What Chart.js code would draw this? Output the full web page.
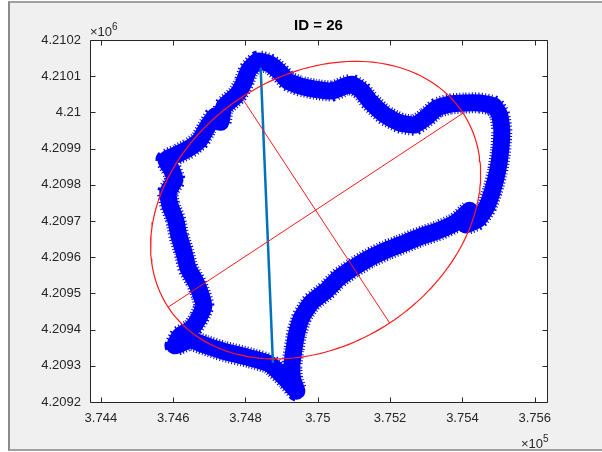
<!DOCTYPE html>
<html lang="en">

<head>
    <meta charset="UTF-8">
    <title>ID = 26</title>
    <script src="https://cdn.jsdelivr.net/npm/chart.js"></script>
    <style>
        body {
            margin: 0;
            background: #ffffff;
        }

        .figure {
            position: absolute;
            left: 8px;
            top: 1px;
            width: 594px;
            height: 446px;
            background: #f0f0f0;
            border-top: 2px solid #a0a0a0;
            border-left: 2px solid #8a8a8a;
            border-bottom: 2px solid #a0a0a0;
        }

        #plot {
            position: absolute;
            left: 10px;
            top: 4px;
        }
    </style>
</head>

<body>
    <div class="figure"></div>
    <canvas id="plot" width="592" height="446"></canvas>
    <script>
        // axis ticks (x in units of 1e5, y in units of 1e6)
        const xTicks = [374400, 374600, 374800, 375000, 375200, 375400, 375600];
        const xTickLabels = ['3.744', '3.746', '3.748', '3.75', '3.752', '3.754', '3.756'];
        const yTicks = [4209200, 4209300, 4209400, 4209500, 4209600, 4209700, 4209800, 4209900, 4210000, 4210100, 4210200];
        const yTickLabels = ['4.2092', '4.2093', '4.2094', '4.2095', '4.2096', '4.2097', '4.2098', '4.2099', '4.21', '4.2101', '4.2102'];

        // boundary track of object 26
        const blobX = [375420, 375384, 375337, 375282, 375227, 375191, 375144, 375097, 375055, 375025,
            374983, 374956, 374942, 374934, 374928, 374931, 374942, 374914, 374867, 374812,
            374737, 374688, 374646, 374605, 374618, 374652, 374671, 374685, 374677, 374663,
            374641, 374630, 374616, 374607, 374591, 374585, 374605, 374596, 374580, 374613,
            374646, 374674, 374693, 374715, 374732, 374740, 374776, 374795, 374809, 374834,
            374867, 374895, 374917, 374950, 374992, 375041, 375075, 375094, 375122, 375144,
            375185, 375227, 375268, 375301, 375329, 375365, 375406, 375448, 375487, 375503,
            375509, 375506, 375498, 375484, 375467, 375442, 375409];
        const blobY = [4209730, 4209697, 4209675, 4209656, 4209634, 4209620, 4209598, 4209570, 4209540, 4209509,
            4209476, 4209435, 4209391, 4209344, 4209299, 4209261, 4209230, 4209261, 4209305, 4209322,
            4209341, 4209357, 4209371, 4209355, 4209382, 4209404, 4209432, 4209465, 4209496, 4209531,
            4209570, 4209614, 4209658, 4209703, 4209744, 4209780, 4209813, 4209841, 4209869, 4209885,
            4209902, 4209924, 4209957, 4209990, 4209973, 4210015, 4210048, 4210081, 4210117, 4210142,
            4210134, 4210111, 4210087, 4210073, 4210064, 4210059, 4210073, 4210078, 4210059, 4210031,
            4209993, 4209971, 4209965, 4209987, 4210012, 4210023, 4210026, 4210026, 4210018, 4209993,
            4209951, 4209896, 4209841, 4209786, 4209739, 4209703, 4209689];

        // straight segment between the two end points
        const chordX = [374842, 374876];
        const chordY = [4210123, 4209308];

        // fitted ellipse
        const ellCenter = [374994, 4209730];
        const ellSemiMajor = 488;
        const ellSemiMinor = 373;
        const ellAngle = 33.3; // degrees

        const th = ellAngle * Math.PI / 180;
        const ellPoint = (u, v) => ({
            x: ellCenter[0] + u * Math.cos(th) - v * Math.sin(th),
            y: ellCenter[1] + u * Math.sin(th) + v * Math.cos(th)
        });
        const ellipse = [];
        for (let i = 0; i <= 200; i++) {
            const t = 2 * Math.PI * i / 200;
            ellipse.push(ellPoint(ellSemiMajor * Math.cos(t), ellSemiMinor * Math.sin(t)));
        }
        const majorAxis = [ellPoint(-ellSemiMajor, 0), ellPoint(ellSemiMajor, 0)];
        const minorAxis = [ellPoint(0, -ellSemiMinor), ellPoint(0, ellSemiMinor)];

        const blob = blobX.map((x, i) => ({ x: x, y: blobY[i] }));
        const chord = chordX.map((x, i) => ({ x: x, y: chordY[i] }));

        const FONT = 'Liberation Sans, Arial, Helvetica, sans-serif';
        const AXIS_COLOR = '#262626';

        // white axes background, box with inward ticks and the exponent labels
        const axesBox = {
            id: 'axesBox',
            beforeDatasetsDraw(chart) {
                const a = chart.chartArea;
                const ctx = chart.ctx;
                ctx.save();
                ctx.fillStyle = '#ffffff';
                ctx.fillRect(a.left, a.top, a.right - a.left + 1, a.bottom - a.top + 1);
                ctx.restore();
            },
            afterDraw(chart) {
                const ctx = chart.ctx;
                const a = chart.chartArea;
                const sx = chart.scales.x;
                const sy = chart.scales.y;
                const L = Math.round(a.left) + 0.5;
                const R = Math.round(a.right) + 0.5;
                const T = Math.round(a.top) + 0.5;
                const B = Math.round(a.bottom) + 0.5;
                const tl = 5;

                ctx.save();
                ctx.strokeStyle = AXIS_COLOR;
                ctx.lineWidth = 1;
                ctx.beginPath();
                ctx.rect(L, T, R - L, B - T);
                xTicks.forEach(v => {
                    const px = Math.round(sx.getPixelForValue(v)) + 0.5;
                    ctx.moveTo(px, B); ctx.lineTo(px, B - tl);
                    ctx.moveTo(px, T); ctx.lineTo(px, T + tl);
                });
                yTicks.forEach(v => {
                    const py = Math.round(sy.getPixelForValue(v)) + 0.5;
                    ctx.moveTo(L, py); ctx.lineTo(L + tl, py);
                    ctx.moveTo(R, py); ctx.lineTo(R - tl, py);
                });
                ctx.stroke();

                ctx.fillStyle = AXIS_COLOR;
                ctx.textBaseline = 'alphabetic';
                ctx.textAlign = 'left';

                // y exponent, top left
                ctx.font = '13px ' + FONT;
                ctx.fillText('\u00d710', L - 0.5, T - 5);
                let w = ctx.measureText('\u00d710').width;
                ctx.font = '10px ' + FONT;
                ctx.fillText('6', L - 0.5 + w, T - 11);

                // x exponent, bottom right
                ctx.font = '10px ' + FONT;
                const w5 = ctx.measureText('5').width;
                ctx.font = '13px ' + FONT;
                w = ctx.measureText('\u00d710').width;
                const x0 = R + 1 - w5 - w;
                ctx.fillText('\u00d710', x0, B + 45);
                ctx.font = '10px ' + FONT;
                ctx.fillText('5', x0 + w, B + 39);
                ctx.restore();
            }
        };

        const ctx = document.getElementById('plot').getContext('2d');
        const chart = new Chart(ctx, {
            type: 'scatter',
            data: {
                datasets: [{
                    // ragged rim of the track
                    data: blob,
                    showLine: true,
                    borderColor: '#0000ff',
                    borderWidth: 21,
                    borderDash: [1, 2],
                    borderJoinStyle: 'round',
                    tension: 0.15,
                    pointRadius: 0,
                    order: 5
                }, {
                    data: blob,
                    showLine: true,
                    borderColor: '#0000ff',
                    borderWidth: 17,
                    borderJoinStyle: 'round',
                    borderCapStyle: 'round',
                    tension: 0.15,
                    pointRadius: 0,
                    order: 4
                }, {
                    data: chord,
                    showLine: true,
                    borderColor: '#0072bd',
                    borderWidth: 2.5,
                    pointRadius: 0,
                    order: 3
                }, {
                    data: ellipse,
                    showLine: true,
                    borderColor: '#ff1a1a',
                    borderWidth: 1.2,
                    pointRadius: 0,
                    order: 1
                }, {
                    data: majorAxis,
                    showLine: true,
                    borderColor: '#ff1a1a',
                    borderWidth: 1,
                    pointRadius: 0,
                    order: 1
                }, {
                    data: minorAxis,
                    showLine: true,
                    borderColor: '#ff1a1a',
                    borderWidth: 1,
                    pointRadius: 0,
                    order: 1
                }]
            },
            options: {
                responsive: false,
                animation: false,
                devicePixelRatio: 1,
                layout: {
                    padding: { left: 0, right: 55, top: 0, bottom: 0 }
                },
                plugins: {
                    legend: { display: false },
                    tooltip: { enabled: false },
                    title: {
                        display: true,
                        text: 'ID = 26',
                        fullSize: false,
                        color: '#000000',
                        font: { family: FONT, size: 15, weight: 'bold', lineHeight: 1.2 },
                        padding: { top: 13, bottom: 5 }
                    }
                },
                scales: {
                    x: {
                        type: 'linear',
                        min: 374370,
                        max: 375634,
                        grid: { display: false, drawTicks: false },
                        border: { display: false },
                        afterBuildTicks: scale => {
                            scale.ticks = xTicks.map(v => ({ value: v }));
                        },
                        afterFit: scale => {
                            scale.height = 48;
                        },
                        ticks: {
                            autoSkip: false,
                            maxRotation: 0,
                            padding: 9,
                            color: AXIS_COLOR,
                            font: { family: FONT, size: 13 },
                            callback: v => xTickLabels[xTicks.indexOf(v)]
                        }
                    },
                    y: {
                        type: 'linear',
                        min: 4209200,
                        max: 4210200,
                        grid: { display: false, drawTicks: false },
                        border: { display: false },
                        afterBuildTicks: scale => {
                            scale.ticks = yTicks.map(v => ({ value: v }));
                        },
                        afterFit: scale => {
                            scale.width = 80;
                        },
                        ticks: {
                            autoSkip: false,
                            padding: 9,
                            color: AXIS_COLOR,
                            font: { family: FONT, size: 13 },
                            callback: v => yTickLabels[yTicks.indexOf(v)]
                        }
                    }
                }
            },
            plugins: [axesBox]
        });
    </script>
</body>

</html>
